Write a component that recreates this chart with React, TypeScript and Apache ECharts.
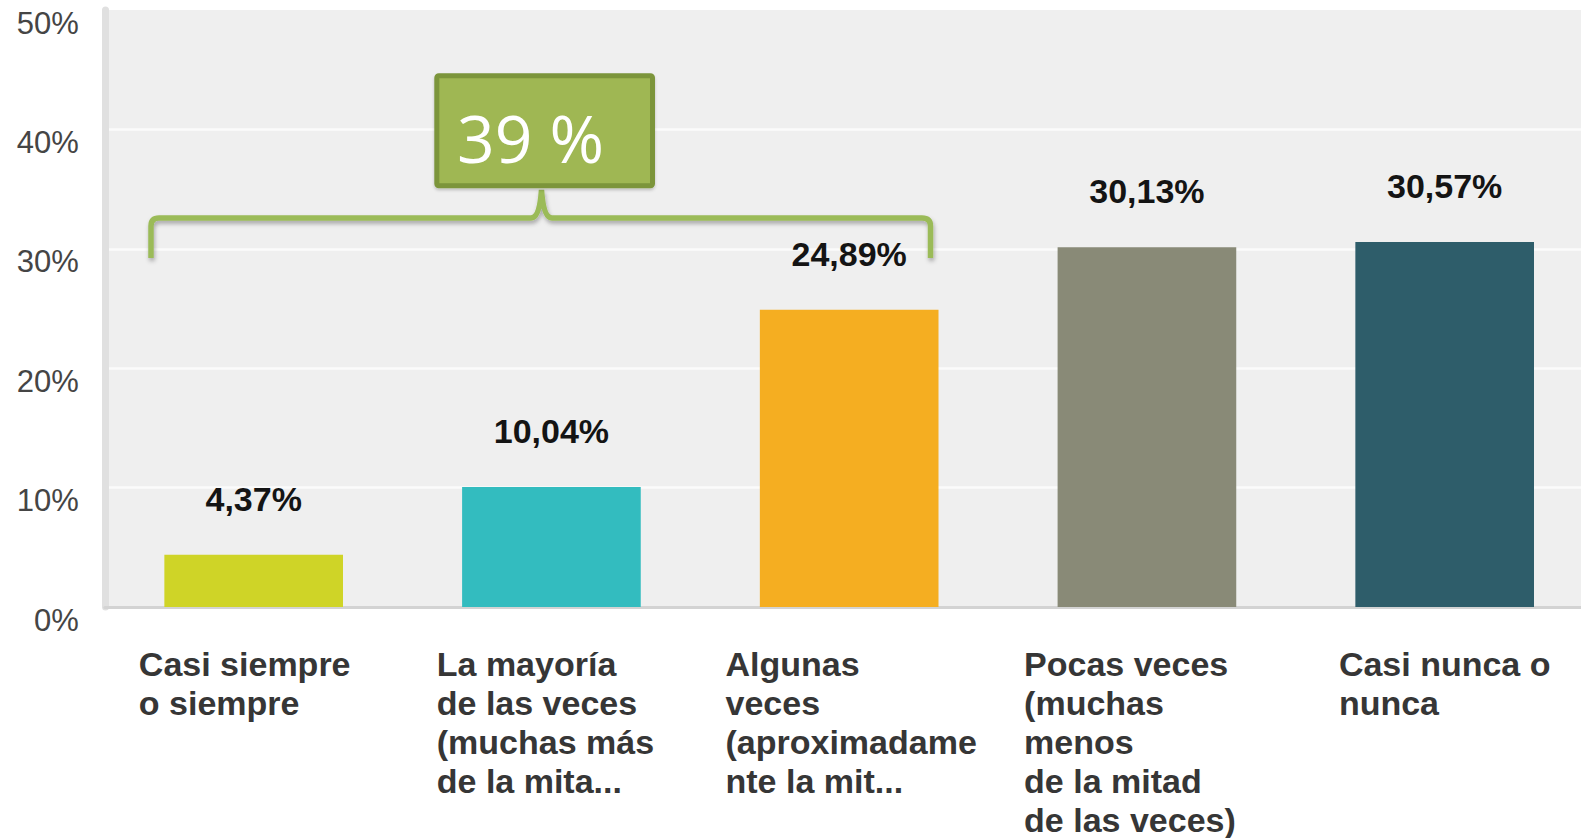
import React, { useEffect, useRef } from "react";
import * as echarts from "echarts";

// ---- data ----
const CATEGORIES = [
  "Casi siempre\no siempre",
  "La mayoría\nde las veces\n(muchas más\nde la mita...",
  "Algunas\nveces\n(aproximadame\nnte la mit...",
  "Pocas veces\n(muchas\nmenos\nde la mitad\nde las veces)",
  "Casi nunca o\nnunca",
];
const VALUES = [4.37, 10.04, 24.89, 30.13, 30.57];
const Y_MIN = 0;
const Y_MAX = 50;
const Y_INTERVAL = 10;
const ANNOTATION_TEXT = "39 %";

// ---- styles ----
const BAR_COLORS = ["#cfd427", "#33bcbf", "#f5ae21", "#898a77", "#2e5d6a"];
// horizontal nudge (px) of each category label block
const LABEL_SHIFTS = [-9, -6, 2, -17, 0];
const BRACE_PATH =
  "M151 258 L151 226 Q151 218 159 218 L531 218 Q539.5 218 541.5 190 Q543.5 218 552 218 L922 218 Q930.5 218 930.5 226 L930.5 258";

let registered = false;
function registerShapes() {
  if (registered) return;
  echarts.graphic.registerShape("brace", echarts.graphic.extendPath(BRACE_PATH, {}) as any);
  registered = true;
}

const labelBase = {
  align: "left",
  fontFamily: "Liberation Sans",
  fontWeight: "bold",
  fontSize: 34,
  lineHeight: 39,
  color: "#363636",
};

function buildRich() {
  const rich: any = {};
  LABEL_SHIFTS.forEach((s, i) => {
    rich["l" + i] = {
      ...labelBase,
      padding: s < 0 ? [0, -2 * s, 0, 0] : [0, 0, 0, 2 * s],
    };
  });
  return rich;
}

export default function App() {
  const ref = useRef<HTMLDivElement>(null);

  useEffect(() => {
    if (!ref.current) return;
    registerShapes();
    const chart = echarts.init(ref.current, undefined, { renderer: "svg" });
    const option: any = {
      animation: false,
      backgroundColor: "#ffffff",
      grid: {
        show: true,
        left: 104.8,
        right: 6.45,
        top: 10,
        bottom: 231,
        backgroundColor: "#efefef",
        borderWidth: 0,
        containLabel: false,
      },
      xAxis: {
        type: "category",
        data: CATEGORIES,
        axisTick: { show: false },
        axisLine: { show: true, lineStyle: { color: "#d3d3d3", width: 3 } },
        axisLabel: {
          interval: 0,
          margin: 37,
          formatter: (v: string) => {
            const idx = CATEGORIES.indexOf(v);
            return v
              .split("\n")
              .map((l) => `{l${idx}|${l}}`)
              .join("\n");
          },
          rich: buildRich(),
        },
      },
      yAxis: {
        type: "value",
        min: Y_MIN,
        max: Y_MAX,
        interval: Y_INTERVAL,
        axisLine: { show: true, lineStyle: { color: "#e0e0e0", width: 7 } },
        axisTick: { show: false },
        splitLine: { show: true, showMaxLine: false, lineStyle: { color: "#fbfbfb", width: 2.5 } },
        axisLabel: {
          formatter: "{value}%",
          fontFamily: "Liberation Sans",
          fontSize: 31,
          color: "#454545",
          margin: 26,
          verticalAlign: "top",
          lineHeight: 26,
        },
      },
      series: [
        {
          type: "bar",
          barWidth: "60%",
          data: VALUES.map((v, i) => ({ value: v, itemStyle: { color: BAR_COLORS[i] } })),
          label: {
            show: true,
            position: "top",
            distance: 39,
            formatter: (p: any) => p.value.toFixed(2).replace(".", ",") + "%",
            fontFamily: "Liberation Sans",
            fontWeight: "bold",
            fontSize: 34,
            lineHeight: 34,
            color: "#141414",
          },
        },
      ],
      graphic: [
        {
          type: "brace",
          x: 0,
          y: 0,
          scaleX: 1,
          scaleY: 1,
          z: 100,
          style: {
            fill: "none",
            stroke: "#9bbb59",
            lineWidth: 5.5,
            shadowBlur: 4,
            shadowOffsetX: 1,
            shadowOffsetY: 3,
            shadowColor: "rgba(0,0,0,0.3)",
          },
        },
        {
          type: "rect",
          z: 101,
          shape: { x: 436.8, y: 75.8, width: 215.7, height: 110, r: 2 },
          style: {
            fill: "#9fb752",
            stroke: "#7b953b",
            lineWidth: 5,
            shadowBlur: 3,
            shadowOffsetY: 2,
            shadowColor: "rgba(0,0,0,0.2)",
          },
        },
        {
          type: "text",
          z: 102,
          x: 457,
          y: 137,
          style: {
            text: ANNOTATION_TEXT,
            fill: "#ffffff",
            fontFamily: "Open Sans",
            fontSize: 66,
            align: "left",
            verticalAlign: "middle",
          },
        },
      ],
    };
    chart.setOption(option);
    return () => chart.dispose();
  }, []);

  return (
    <div
      style={{
        position: "fixed",
        left: 0,
        top: 0,
        width: 1581,
        height: 838,
        overflow: "hidden",
        background: "#fff",
      }}
    >
      <div ref={ref} style={{ width: 1600, height: 838 }} />
    </div>
  );
}
